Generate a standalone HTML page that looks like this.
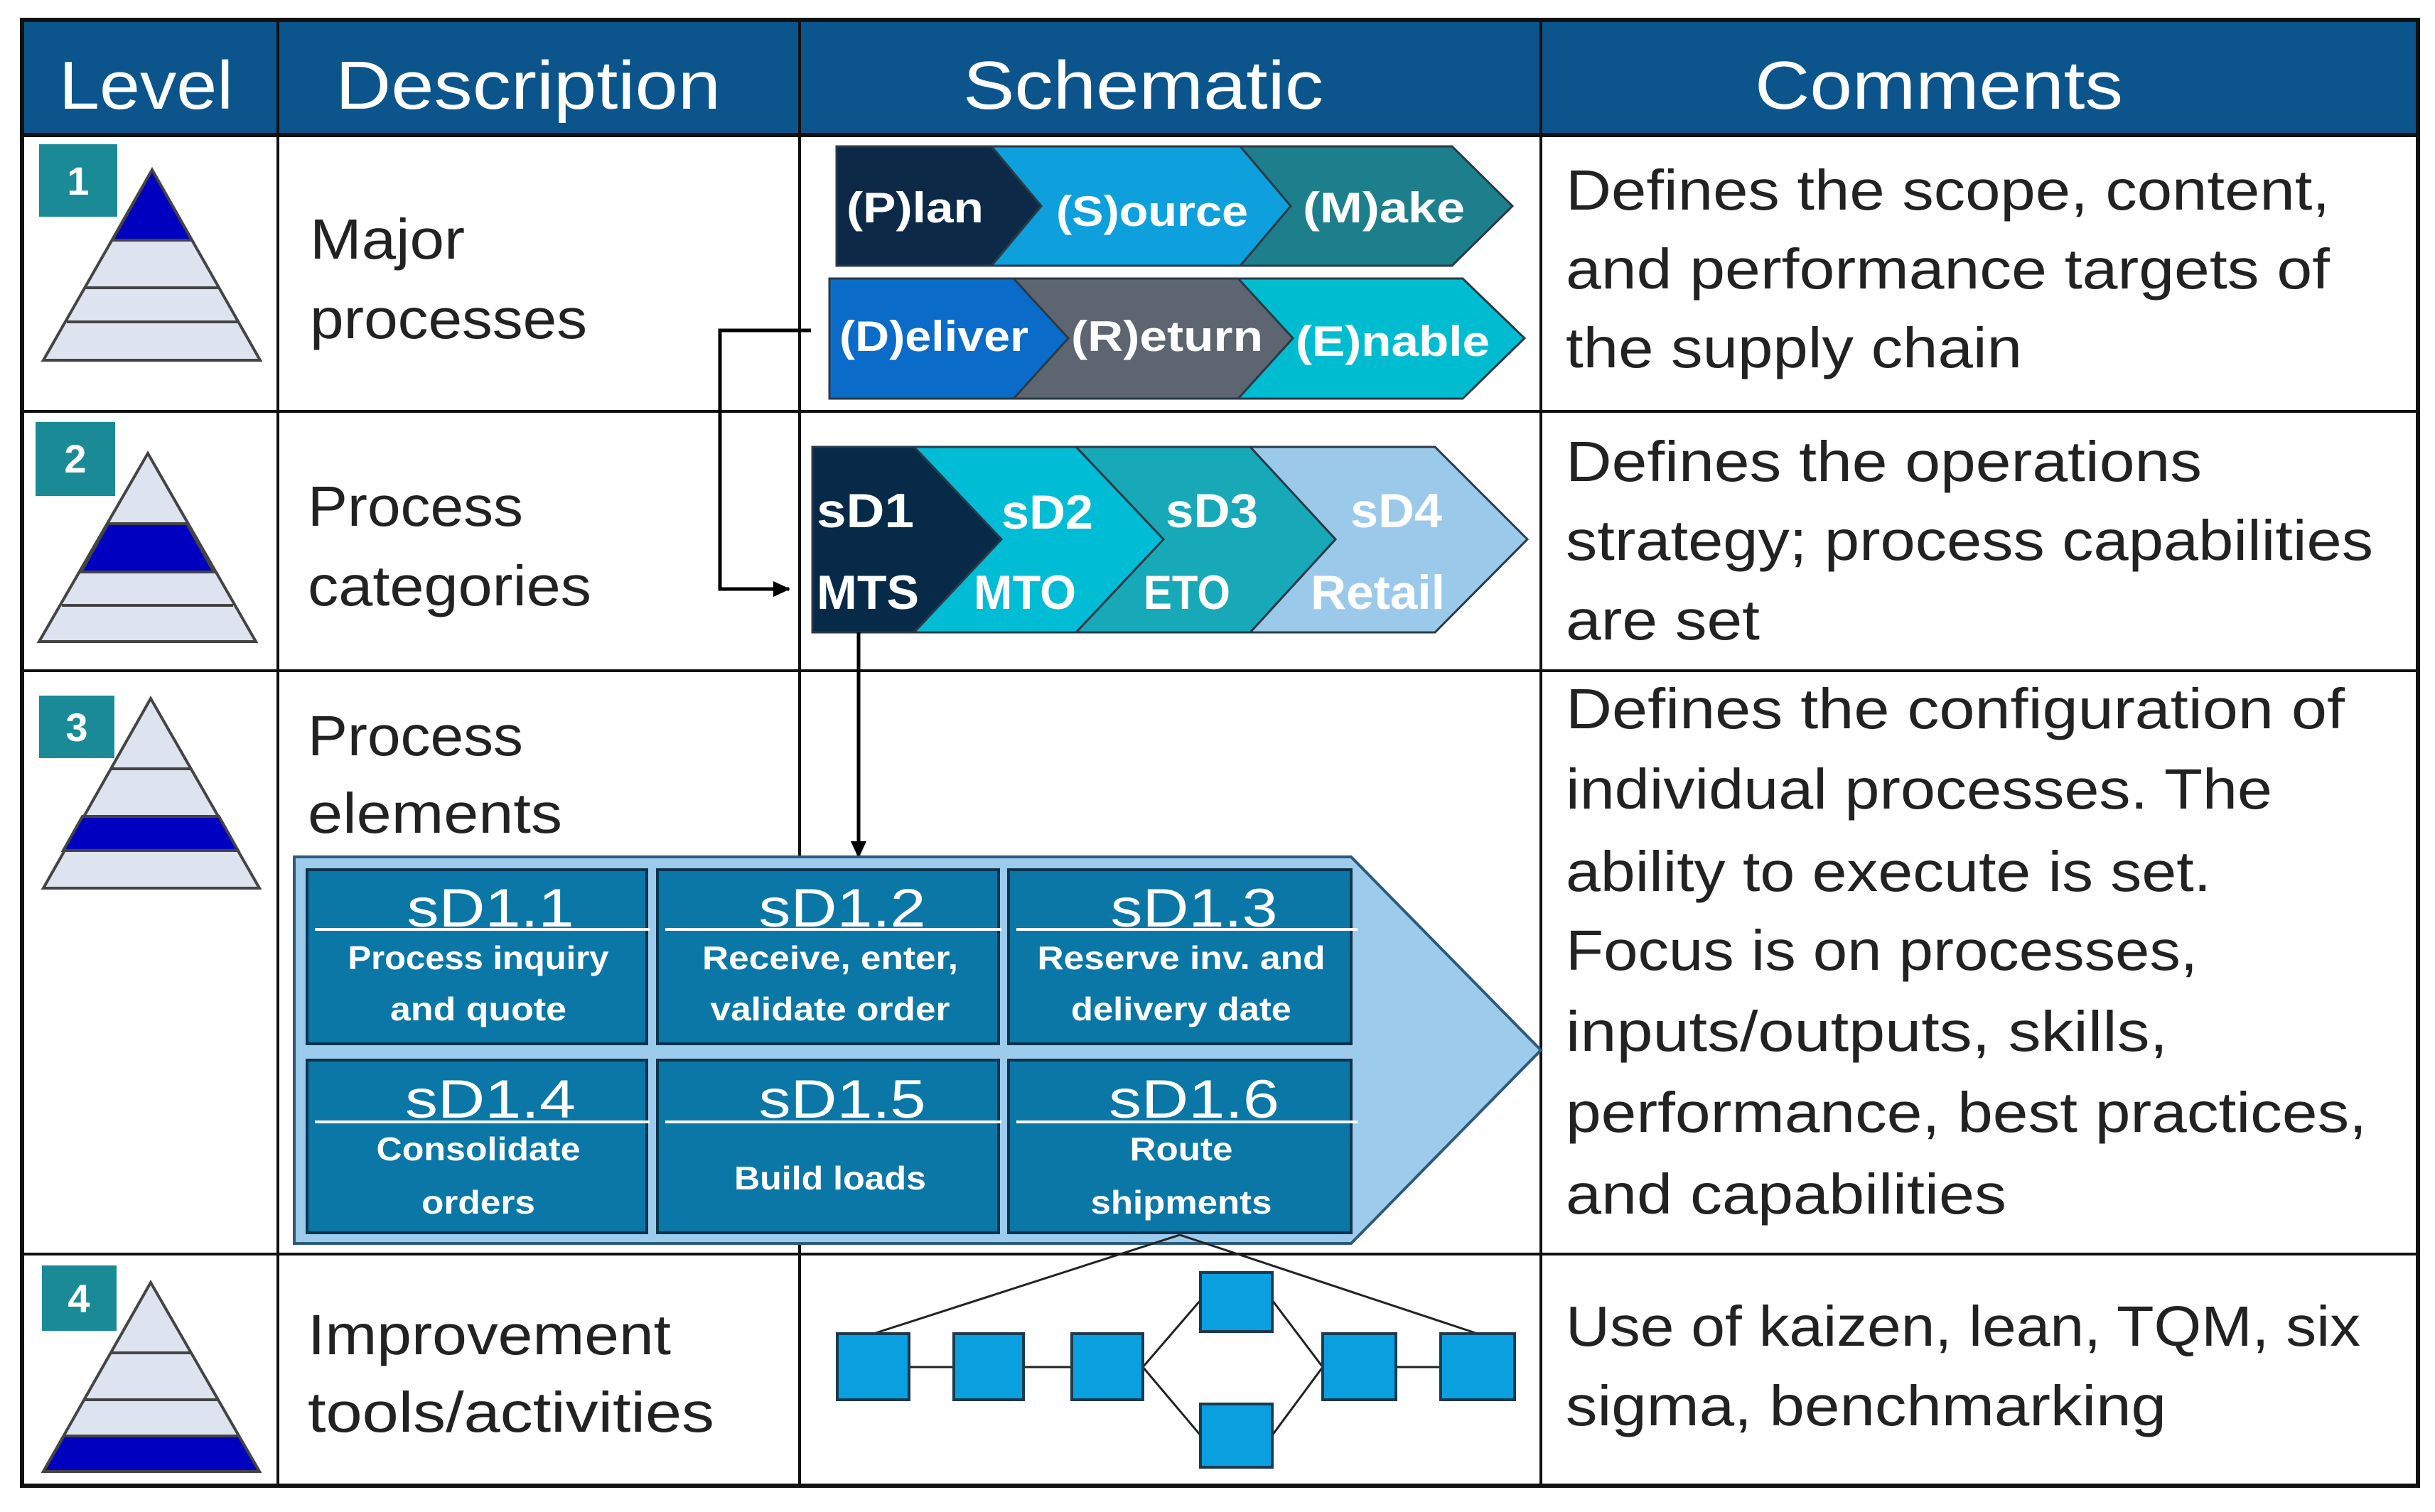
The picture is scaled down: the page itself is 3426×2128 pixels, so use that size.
<!DOCTYPE html>
<html><head><meta charset="utf-8"><style>
html,body{margin:0;padding:0;background:#fff;}
svg{display:block;}
text{font-family:"Liberation Sans",sans-serif;}
</style></head><body>
<svg width="3426" height="2128" viewBox="0 0 3426 2128" xmlns="http://www.w3.org/2000/svg">
<defs>
<marker id="ah" markerWidth="24" markerHeight="22" refX="22" refY="11" orient="auto" markerUnits="userSpaceOnUse"><path d="M0,0 L24,11 L0,22 z" fill="#000"/></marker>
</defs>
<rect x="0" y="0" width="3426" height="2128" fill="#fff"/>
<rect x="31" y="28" width="3371" height="162" fill="#0b558c"/>
<g fill="#fff" font-size="96">
<text x="83" y="153" textLength="245" lengthAdjust="spacingAndGlyphs">Level</text>
<text x="472" y="153" textLength="542" lengthAdjust="spacingAndGlyphs">Description</text>
<text x="1355" y="153" textLength="507" lengthAdjust="spacingAndGlyphs">Schematic</text>
<text x="2469" y="153" textLength="518" lengthAdjust="spacingAndGlyphs">Comments</text>
</g>
<g stroke="#111" fill="none">
<rect x="31" y="28" width="3371" height="2063" stroke-width="6"/>
<line x1="31" y1="190" x2="3402" y2="190" stroke-width="6"/>
<line x1="391" y1="28" x2="391" y2="2091" stroke-width="4"/>
<line x1="1125" y1="28" x2="1125" y2="2091" stroke-width="4"/>
<line x1="2168" y1="28" x2="2168" y2="2091" stroke-width="4"/>
<line x1="31" y1="579" x2="3402" y2="579" stroke-width="4"/>
<line x1="31" y1="944" x2="3402" y2="944" stroke-width="4"/>
<line x1="31" y1="1765" x2="3402" y2="1765" stroke-width="4"/>
</g>
<g stroke="#444" stroke-width="4">
<polygon points="214,239 366,507 61,507" fill="#dde3ef"/>
<polygon points="214,239 270,338 158,338" fill="#0000c0"/>
<line x1="158" y1="338" x2="270" y2="338"/><line x1="120" y1="405" x2="308" y2="405"/><line x1="94" y1="453" x2="334" y2="453"/>
<polygon points="208,638 360,903 55,903" fill="#dde3ef"/>
<polygon points="263,737 301,805 114,805 152,737" fill="#0000c0"/>
<line x1="152" y1="737" x2="263" y2="737"/><line x1="114" y1="805" x2="301" y2="805"/><line x1="87" y1="852" x2="328" y2="852"/>
<polygon points="212,983 365,1250 61,1250" fill="#dde3ef"/>
<polygon points="308,1149 335,1197 89,1197 116,1149" fill="#0000c0"/>
<line x1="156" y1="1082" x2="268" y2="1082"/><line x1="116" y1="1149" x2="308" y2="1149"/><line x1="89" y1="1197" x2="335" y2="1197"/>
<polygon points="212,1805 365,2071 61,2071" fill="#dde3ef"/>
<polygon points="336,2021 365,2071 61,2071 90,2021" fill="#0000c0"/>
<line x1="156" y1="1904" x2="268" y2="1904"/><line x1="118" y1="1970" x2="306" y2="1970"/><line x1="90" y1="2021" x2="336" y2="2021"/>
</g>
<g fill="#1a8a96">
<rect x="55" y="203" width="110" height="102"/>
<rect x="50" y="594" width="112" height="104"/>
<rect x="55" y="979" width="106" height="88"/>
<rect x="59" y="1781" width="105" height="92"/>
</g>
<g fill="#fff" font-size="56" font-weight="bold" text-anchor="middle">
<text x="110" y="274">1</text><text x="106" y="665">2</text><text x="108" y="1043">3</text><text x="111" y="1847">4</text>
</g>
<g fill="#222" font-size="80">
<text x="436" y="364" textLength="218" lengthAdjust="spacingAndGlyphs">Major</text>
<text x="436" y="476" textLength="390" lengthAdjust="spacingAndGlyphs">processes</text>
<text x="433" y="740" textLength="303" lengthAdjust="spacingAndGlyphs">Process</text>
<text x="433" y="852" textLength="399" lengthAdjust="spacingAndGlyphs">categories</text>
<text x="433" y="1063" textLength="303" lengthAdjust="spacingAndGlyphs">Process</text>
<text x="433" y="1172" textLength="358" lengthAdjust="spacingAndGlyphs">elements</text>
<text x="433" y="1906" textLength="511" lengthAdjust="spacingAndGlyphs">Improvement</text>
<text x="433" y="2015" textLength="572" lengthAdjust="spacingAndGlyphs">tools/activities</text>
</g>
<g fill="#222" font-size="80">
<text x="2203" y="295" textLength="1075" lengthAdjust="spacingAndGlyphs">Defines the scope, content,</text>
<text x="2203" y="406" textLength="1075" lengthAdjust="spacingAndGlyphs">and performance targets of</text>
<text x="2203" y="517" textLength="642" lengthAdjust="spacingAndGlyphs">the supply chain</text>
<text x="2203" y="677" textLength="895" lengthAdjust="spacingAndGlyphs">Defines the operations</text>
<text x="2203" y="788" textLength="1136" lengthAdjust="spacingAndGlyphs">strategy; process capabilities</text>
<text x="2203" y="900" textLength="273" lengthAdjust="spacingAndGlyphs">are set</text>
<text x="2203" y="1025" textLength="1096" lengthAdjust="spacingAndGlyphs">Defines the configuration of</text>
<text x="2203" y="1138" textLength="994" lengthAdjust="spacingAndGlyphs">individual processes. The</text>
<text x="2203" y="1254" textLength="908" lengthAdjust="spacingAndGlyphs">ability to execute is set.</text>
<text x="2203" y="1365" textLength="889" lengthAdjust="spacingAndGlyphs">Focus is on processes,</text>
<text x="2203" y="1479" textLength="847" lengthAdjust="spacingAndGlyphs">inputs/outputs, skills,</text>
<text x="2203" y="1593" textLength="1127" lengthAdjust="spacingAndGlyphs">performance, best practices,</text>
<text x="2203" y="1708" textLength="620" lengthAdjust="spacingAndGlyphs">and capabilities</text>
<text x="2203" y="1894" textLength="1118" lengthAdjust="spacingAndGlyphs">Use of kaizen, lean, TQM, six</text>
<text x="2203" y="2006" textLength="845" lengthAdjust="spacingAndGlyphs">sigma, benchmarking</text>
</g>
<g stroke="#2a3a48" stroke-width="3">
<polygon points="1745,206 2043,206 2128,290 2043,374 1745,374 1816,290" fill="#1d7f8c"/>
<polygon points="1395,206 1745,206 1816,290 1745,374 1395,374 1465,290" fill="#0da0dc"/>
<polygon points="1177,206 1395,206 1465,290 1395,374 1177,374" fill="#0c2a47"/>
<polygon points="1742,392 2058,392 2145,476 2058,561 1742,561 1819,476" fill="#00bcd0"/>
<polygon points="1426,392 1742,392 1819,476 1742,561 1426,561 1503,476" fill="#5d6670"/>
<polygon points="1167,392 1426,392 1503,476 1426,561 1167,561" fill="#0a6cc8"/>
</g>
<g fill="#fff" font-size="60" font-weight="bold">
<text x="1191" y="313" textLength="193" lengthAdjust="spacingAndGlyphs">(P)lan</text>
<text x="1486" y="318" textLength="270" lengthAdjust="spacingAndGlyphs">(S)ource</text>
<text x="1833" y="313" textLength="228" lengthAdjust="spacingAndGlyphs">(M)ake</text>
<text x="1181" y="494" textLength="266" lengthAdjust="spacingAndGlyphs">(D)eliver</text>
<text x="1507" y="494" textLength="270" lengthAdjust="spacingAndGlyphs">(R)eturn</text>
<text x="1823" y="501" textLength="273" lengthAdjust="spacingAndGlyphs">(E)nable</text>
</g>
<g stroke="#2a3a48" stroke-width="3">
<polygon points="1759,629 2019,629 2149,759 2019,890 1759,890 1879,759" fill="#9bc9ea"/>
<polygon points="1514,629 1759,629 1879,759 1759,890 1514,890 1637,759" fill="#17a9b8"/>
<polygon points="1286,629 1514,629 1637,759 1514,890 1286,890 1409,759" fill="#00bcd4"/>
<polygon points="1143,629 1286,629 1409,759 1286,890 1143,890" fill="#062a47"/>
</g>
<g fill="#fff" font-size="68" font-weight="bold">
<text x="1149" y="742" textLength="137" lengthAdjust="spacingAndGlyphs">sD1</text>
<text x="1149" y="857" textLength="144" lengthAdjust="spacingAndGlyphs">MTS</text>
<text x="1409" y="744" textLength="129" lengthAdjust="spacingAndGlyphs">sD2</text>
<text x="1370" y="857" textLength="144" lengthAdjust="spacingAndGlyphs">MTO</text>
<text x="1640" y="742" textLength="130" lengthAdjust="spacingAndGlyphs">sD3</text>
<text x="1609" y="857" textLength="122" lengthAdjust="spacingAndGlyphs">ETO</text>
<text x="1900" y="742" textLength="129" lengthAdjust="spacingAndGlyphs">sD4</text>
<text x="1844" y="857" textLength="189" lengthAdjust="spacingAndGlyphs">Retail</text>
</g>
<polyline points="1141,465 1013,465 1013,829 1110,829" fill="none" stroke="#000" stroke-width="5" marker-end="url(#ah)"/>
<line x1="1208" y1="890" x2="1208" y2="1206" stroke="#000" stroke-width="5" marker-end="url(#ah)"/>
<polygon points="414,1206 1901,1206 2168,1478 1901,1750 414,1750" fill="#9dcbec" stroke="#2c5a7a" stroke-width="4"/>
<g fill="#0a77a6" stroke="#0a3550" stroke-width="4">
<rect x="432" y="1224" width="478" height="245"/>
<rect x="925" y="1224" width="480" height="245"/>
<rect x="1419" y="1224" width="482" height="245"/>
<rect x="432" y="1492" width="478" height="243"/>
<rect x="925" y="1492" width="480" height="243"/>
<rect x="1419" y="1492" width="482" height="243"/>
</g>
<g stroke="#fff" stroke-width="4">
<line x1="443" y1="1308" x2="914" y2="1308"/><line x1="936" y1="1308" x2="1409" y2="1308"/><line x1="1430" y1="1308" x2="1910" y2="1308"/>
<line x1="443" y1="1579" x2="914" y2="1579"/><line x1="936" y1="1579" x2="1409" y2="1579"/><line x1="1430" y1="1579" x2="1910" y2="1579"/>
</g>
<g fill="#fff" font-size="76" text-anchor="middle">
<text x="690" y="1304" textLength="235" lengthAdjust="spacingAndGlyphs">sD1.1</text>
<text x="1185" y="1304" textLength="235" lengthAdjust="spacingAndGlyphs">sD1.2</text>
<text x="1680" y="1304" textLength="235" lengthAdjust="spacingAndGlyphs">sD1.3</text>
<text x="690" y="1573" textLength="240" lengthAdjust="spacingAndGlyphs">sD1.4</text>
<text x="1185" y="1573" textLength="235" lengthAdjust="spacingAndGlyphs">sD1.5</text>
<text x="1680" y="1573" textLength="240" lengthAdjust="spacingAndGlyphs">sD1.6</text>
</g>
<g fill="#fff" font-size="46" font-weight="bold" text-anchor="middle">
<text x="673" y="1364" textLength="367" lengthAdjust="spacingAndGlyphs">Process inquiry</text>
<text x="673" y="1436" textLength="248" lengthAdjust="spacingAndGlyphs">and quote</text>
<text x="1168" y="1364" textLength="360" lengthAdjust="spacingAndGlyphs">Receive, enter,</text>
<text x="1168" y="1436" textLength="337" lengthAdjust="spacingAndGlyphs">validate order</text>
<text x="1662" y="1364" textLength="405" lengthAdjust="spacingAndGlyphs">Reserve inv. and</text>
<text x="1662" y="1436" textLength="310" lengthAdjust="spacingAndGlyphs">delivery date</text>
<text x="673" y="1633" textLength="287" lengthAdjust="spacingAndGlyphs">Consolidate</text>
<text x="673" y="1708" textLength="160" lengthAdjust="spacingAndGlyphs">orders</text>
<text x="1168" y="1674" textLength="270" lengthAdjust="spacingAndGlyphs">Build loads</text>
<text x="1662" y="1633" textLength="145" lengthAdjust="spacingAndGlyphs">Route</text>
<text x="1662" y="1708" textLength="255" lengthAdjust="spacingAndGlyphs">shipments</text>
</g>
<g stroke="#222" stroke-width="3" fill="none">
<line x1="1660" y1="1738" x2="1229" y2="1877"/>
<line x1="1660" y1="1738" x2="2079" y2="1877"/>
<line x1="1279" y1="1924" x2="1342" y2="1924"/>
<line x1="1440" y1="1924" x2="1508" y2="1924"/>
<line x1="1964" y1="1924" x2="2027" y2="1924"/>
<polyline points="1608,1924 1689,1830 1790,1830 1861,1924 1790,2020 1689,2020 1608,1924"/>
</g>
<g fill="#0aa0e0" stroke="#1a3a50" stroke-width="4">
<rect x="1178" y="1877" width="101" height="93"/>
<rect x="1342" y="1877" width="98" height="93"/>
<rect x="1508" y="1877" width="100" height="93"/>
<rect x="1861" y="1877" width="103" height="93"/>
<rect x="2027" y="1877" width="104" height="93"/>
<rect x="1689" y="1791" width="101" height="83"/>
<rect x="1689" y="1976" width="101" height="89"/>
</g>
</svg>
</body></html>
